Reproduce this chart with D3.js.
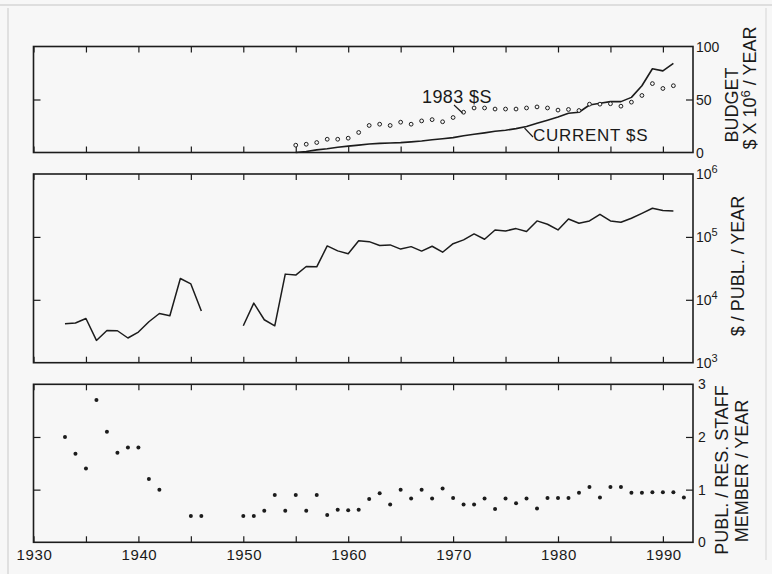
<!DOCTYPE html>
<html>
<head>
<meta charset="utf-8">
<script src="https://cdn.jsdelivr.net/npm/d3@7"></script>
<style>
html,body{margin:0;padding:0;background:#f7f7f7;}
svg{display:block;}
text{font-family:"Liberation Sans",Arial,sans-serif;fill:#1a1a1a;}
</style>
</head>
<body>
<svg id="chart" width="772" height="574"></svg>
<script>
// ---------- DATA ----------
const budgetYears = d3.range(1955, 1992);
const budget1983 = [6.9,7.8,9.4,12.5,12.5,13.5,18.9,25.5,26.7,25.5,28.6,26.7,29.8,31,29,33,38,42,42,41,41,41,42,43,42,40,40.6,39.6,45.6,45.6,46,43.7,47.5,53.8,65,60.4,63];
const budgetCurrent = [0,1,2.5,3.5,5,6,7,8,8.6,9,9.3,10,10.8,12,13,14,15.8,17.2,18.5,20,21,22.5,24.5,27.5,30.5,33.5,37,38,44.8,46.4,48,48,52,63,79,77,84];

const costYears = d3.range(1933, 1992);
const costPerPubl = [4160,4270,5050,2260,3260,3220,2470,3070,4480,6060,5570,21800,17900,6620,
  null,null,null,
  3860,8870,4820,3860,25600,24700,33800,33400,71900,60000,54000,87000,84000,73000,74600,64000,70000,59500,71000,57100,
  78000,89600,111600,91900,129000,124500,135500,121500,179600,159000,129000,193000,165000,179600,229000,179600,171000,198000,237000,285000,262000,259000];

const ratioYears = d3.range(1933, 1993);
const publPerStaff = [2.0,1.68,1.4,2.7,2.1,1.7,1.8,1.8,1.2,1.0,null,null,0.5,0.5,null,null,null,
  0.5,0.5,0.6,0.9,0.6,0.9,0.6,0.9,0.52,0.62,0.61,0.62,0.82,0.93,0.72,1.0,0.83,1.0,0.83,1.02,
  0.84,0.72,0.72,0.83,0.63,0.83,0.74,0.83,0.64,0.84,0.84,0.84,0.94,1.05,0.85,1.05,1.05,0.94,0.94,0.95,0.95,0.95,0.85];

const xTickYears = d3.range(1930, 1995, 5);
const xLabelYears = [1930,1940,1950,1960,1970,1980,1990];
const budgetTicks = [0,50,100];
const costTicks = [1e3,1e4,1e5,1e6];
const ratioTicks = [0,1,2,3];

// ---------- LAYOUT ----------
const svg = d3.select("#chart");
const L = 33.5, R = 693;
const x = d3.scaleLinear().domain([1930, 1992.87]).range([L, R]);

const p1 = {top:46.5, bottom:152.5};
const p2 = {top:174, bottom:362.7};
const p3 = {top:384.3, bottom:542.3};

const y1 = d3.scaleLinear().domain([0,100]).range([p1.bottom, p1.top]);
const y2 = d3.scaleLog().domain([1e3,1e6]).range([p2.bottom, p2.top]);
const y3 = d3.scaleLinear().domain([0,3]).range([p3.bottom, p3.top]);

const ink = "#1c1c1c";

// faint scan border
svg.append("line").attr("x1",0).attr("x2",772).attr("y1",5).attr("y2",5).attr("stroke","#d6d6d6").attr("stroke-width",1.5);
svg.append("line").attr("x1",8).attr("x2",8).attr("y1",8).attr("y2",574).attr("stroke","#e0e0e0").attr("stroke-width",2);
svg.append("line").attr("x1",766).attr("x2",766).attr("y1",8).attr("y2",560).attr("stroke","#e0e0e0").attr("stroke-width",1.5);

function frame(p, yScale, innerTicks, tickFmt){
  const g = svg.append("g");
  // x axes top and bottom with inward ticks
  g.append("g").attr("transform",`translate(0,${p.bottom})`)
    .call(d3.axisBottom(x).tickValues(xTickYears).tickSize(-6).tickFormat(""))
    .call(a=>{a.select(".domain").remove(); a.selectAll("line").attr("stroke",ink).attr("stroke-width",1.2);});
  g.append("g").attr("transform",`translate(0,${p.top})`)
    .call(d3.axisTop(x).tickValues(xTickYears).tickSize(-6).tickFormat(""))
    .call(a=>{a.select(".domain").remove(); a.selectAll("line").attr("stroke",ink).attr("stroke-width",1.2);});
  // y axes left and right with inward ticks
  g.append("g").attr("transform",`translate(${L},0)`)
    .call(d3.axisLeft(yScale).tickValues(innerTicks).tickSize(-7).tickFormat(""))
    .call(a=>{a.select(".domain").remove(); a.selectAll("line").attr("stroke",ink).attr("stroke-width",1.2);});
  g.append("g").attr("transform",`translate(${R},0)`)
    .call(d3.axisRight(yScale).tickValues(innerTicks).tickSize(-7).tickFormat(""))
    .call(a=>{a.select(".domain").remove(); a.selectAll("line").attr("stroke",ink).attr("stroke-width",1.2);});
  g.append("rect").attr("x",L).attr("y",p.top).attr("width",R-L).attr("height",p.bottom-p.top)
    .attr("fill","none").attr("stroke",ink).attr("stroke-width",1.6);
}

frame(p1, y1, [50]);
frame(p2, y2, [1e4,1e5]);
frame(p3, y3, [1,2]);

// ---------- right tick labels ----------
const tl = svg.append("g").attr("font-size",14);
budgetTicks.forEach(v=>{
  tl.append("text").attr("x",R+3).attr("y",y1(v)).attr("dy","0.36em").text(v);
});
costTicks.forEach(v=>{
  const e = Math.round(Math.log10(v));
  const t = tl.append("text").attr("x",R+3).attr("y",y2(v)).attr("dy","0.36em");
  t.append("tspan").text("10");
  t.append("tspan").attr("font-size",11).attr("dy","-0.55em").text(e);
});
ratioTicks.forEach(v=>{
  tl.append("text").attr("x",R+5).attr("y",y3(v)).attr("dy","0.36em").text(v);
});

// ---------- x labels ----------
svg.append("g").attr("font-size",15).selectAll("text").data(xLabelYears).join("text")
  .attr("x",d=>x(d)+1).attr("y",p3.bottom+18).attr("text-anchor","middle").attr("letter-spacing",0.6).text(d=>d);

// ---------- axis titles (rotated) ----------
function vtext(cx, cy, parts, size){
  const t = svg.append("text").attr("transform",`translate(${cx},${cy}) rotate(-90)`)
    .attr("text-anchor","middle").attr("font-size",size||18);
  parts.forEach(p=>{
    const s = t.append("tspan").text(p.t);
    if(p.sup){ s.attr("font-size",13).attr("dy","-0.5em"); }
    if(p.down){ s.attr("dy","0.38em"); }
  });
  return t;
}
vtext(738, 105, [{t:"BUDGET"}]);
vtext(756, 88, [{t:"$ X 10"},{t:"6",sup:true},{t:" / YEAR",down:true}]);
vtext(744, 266, [{t:"$ / PUBL. / YEAR"}]);
vtext(728, 470, [{t:"PUBL. / RES. STAFF"}]);
vtext(748, 471, [{t:"MEMBER / YEAR"}]);

// ---------- panel 1 ----------
const lineCur = d3.line().x((d,i)=>x(budgetYears[i])).y(d=>y1(d));
svg.append("path").datum(budgetCurrent).attr("d",lineCur)
  .attr("fill","none").attr("stroke",ink).attr("stroke-width",1.6).attr("stroke-linejoin","round");
svg.append("g").selectAll("circle").data(budget1983).join("circle")
  .attr("cx",(d,i)=>x(budgetYears[i])).attr("cy",d=>y1(d)).attr("r",1.9)
  .attr("fill","#f7f7f7").attr("stroke",ink).attr("stroke-width",1);

// annotations
svg.append("text").attr("x",422).attr("y",103).attr("font-size",18).attr("letter-spacing",0.4).text("1983 $S");
svg.append("line").attr("x1",454).attr("y1",105).attr("x2",462.5).attr("y2",113).attr("stroke",ink).attr("stroke-width",1.1);
svg.append("text").attr("x",533).attr("y",141).attr("font-size",17).attr("letter-spacing",0.7).text("CURRENT $S");
svg.append("line").attr("x1",524.5).attr("y1",128).attr("x2",533).attr("y2",137).attr("stroke",ink).attr("stroke-width",1.1);

// ---------- panel 2 ----------
const lineCost = d3.line().defined(d=>d!==null).x((d,i)=>x(costYears[i])).y(d=>y2(d));
svg.append("path").datum(costPerPubl).attr("d",lineCost)
  .attr("fill","none").attr("stroke",ink).attr("stroke-width",1.5).attr("stroke-linejoin","round");

// ---------- panel 3 ----------
svg.append("g").selectAll("circle").data(publPerStaff.map((v,i)=>({yr:ratioYears[i],v})).filter(d=>d.v!==null))
  .join("circle").attr("cx",d=>x(d.yr)).attr("cy",d=>y3(d.v)).attr("r",2).attr("fill",ink);
</script>
</body>
</html>
